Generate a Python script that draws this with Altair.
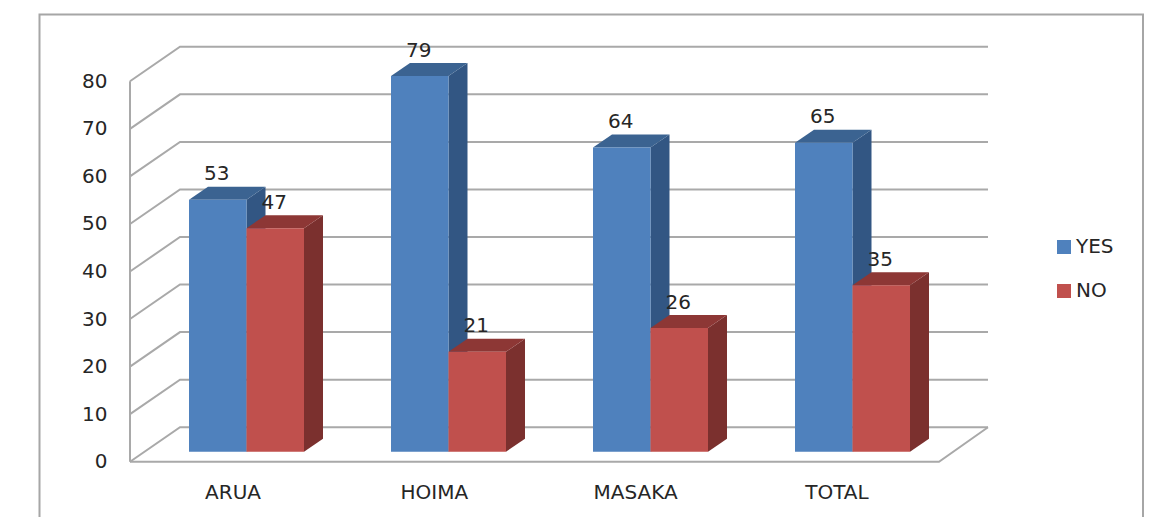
import altair as alt
import pandas as pd

categories = ["ARUA", "HOIMA", "MASAKA", "TOTAL"]
yes_values = [53, 79, 64, 65]
no_values = [47, 21, 26, 35]
tick_values = [0, 10, 20, 30, 40, 50, 60, 70, 80]

FONT = "DejaVu Sans"
TEXT = "#262626"
GRID = "#A9A9A9"
YES_C = ("#4F81BD", "#325683", "#3B6391")
NO_C = ("#C0504D", "#7B302E", "#8D3735")

# x is in page pixels, y is in value units
PX = 4.755            # pixels per value unit
ZERO_PAGE = 461.7     # page y of value 0 on the front plane
y_dom = [(ZERO_PAGE - 517) / PX, (ZERO_PAGE - 8) / PX]
x_dom = [8, 1151]
X = alt.X("x:Q", scale=alt.Scale(domain=x_dom), axis=None)
Y = alt.Y("y:Q", scale=alt.Scale(domain=y_dom),
          axis=alt.Axis(values=tick_values, domain=False, ticks=False, grid=False, title=None,
                        offset=-99, labelPadding=0, labelFont=FONT, labelFontSize=20,
                        labelColor=TEXT, labelBaseline="middle"))

WALL_X, BACK_X, FLOOR_END = 130, 180, 939
BACK_END = 988
DEPTH = 34.5 / PX
BASE = 10 / PX
BAR_DX, BAR_DY = 19, 13 / PX
FIRST, STEP, BAR_W = 189, 202, 57.5
TOP_V = 80

# frame
frame = pd.DataFrame({"x": [39.5, 39.5, 1143, 1143],
                      "y": [y_dom[0], (ZERO_PAGE - 14.5) / PX, (ZERO_PAGE - 14.5) / PX, y_dom[0]],
                      "o": [0, 1, 2, 3]})
frame_l = alt.Chart(frame).mark_line(color="#A6A6A6", strokeWidth=2).encode(X, Y, order="o:Q")

# grid lines on side wall and back wall, then the floor outline and axis line
rows = []
for v in tick_values:
    rows += [dict(g=f"t{v}", o=0, x=WALL_X, y=v),
             dict(g=f"t{v}", o=1, x=BACK_X, y=v + DEPTH),
             dict(g=f"t{v}", o=2, x=BACK_END, y=v + DEPTH)]
rows += [dict(g="floor", o=0, x=WALL_X, y=0), dict(g="floor", o=1, x=FLOOR_END, y=0),
         dict(g="floor", o=2, x=BACK_END, y=DEPTH),
         dict(g="wall", o=0, x=WALL_X, y=0), dict(g="wall", o=1, x=WALL_X, y=TOP_V)]
grid_l = alt.Chart(pd.DataFrame(rows)).mark_line(color=GRID, strokeWidth=2).encode(X, Y, detail="g:N", order="o:Q")


def faces(values, left, series, cols):
    side, top, front = [], [], []
    for i, v in enumerate(values):
        xl = left + i * STEP
        xr = xl + BAR_W
        tv = BASE + v
        side += [dict(g=i, x=xr, y=BASE, y2=tv), dict(g=i, x=xr + BAR_DX, y=BASE + BAR_DY, y2=tv + BAR_DY)]
        top += [dict(g=i, x=xl, x2=xr, y=tv), dict(g=i, x=xl + BAR_DX, x2=xr + BAR_DX, y=tv + BAR_DY)]
        front.append(dict(x=xl, x2=xr, y=BASE, y2=tv, series=series))
    s = alt.Chart(pd.DataFrame(side)).mark_area(color=cols[1], orient="vertical").encode(X, Y, y2="y2:Q", detail="g:N")
    t = alt.Chart(pd.DataFrame(top)).mark_area(color=cols[2], orient="horizontal").encode(X, Y, x2="x2:Q", detail="g:N")
    f = alt.Chart(pd.DataFrame(front)).mark_rect().encode(
        X, Y, x2="x2:Q", y2="y2:Q",
        color=alt.Color("series:N",
                        scale=alt.Scale(domain=["YES", "NO"], range=[YES_C[0], NO_C[0]]),
                        legend=alt.Legend(orient="none", legendX=1046, legendY=229, title=None,
                                          symbolType="square", symbolSize=196, symbolStrokeWidth=0,
                                          labelFont=FONT, labelFontSize=20, labelColor=TEXT,
                                          labelOffset=2, rowPadding=24)))
    return [s, t, f]


blue = faces(yes_values, FIRST, "YES", YES_C)
red = faces(no_values, FIRST + BAR_W, "NO", NO_C)

# value labels
lab = []
for i, (a, b) in enumerate(zip(yes_values, no_values)):
    lab.append(dict(x=FIRST + i * STEP + BAR_W / 2 - 1, y=BASE + a + BAR_DY + 12.5 / PX, t=str(a)))
    lab.append(dict(x=FIRST + BAR_W + i * STEP + BAR_W / 2 - 1, y=BASE + b + BAR_DY + 12.5 / PX, t=str(b)))
val_l = alt.Chart(pd.DataFrame(lab)).mark_text(font=FONT, fontSize=20, color=TEXT, baseline="middle").encode(X, Y, text="t:N")

# category labels
cat_df = pd.DataFrame({"x": [233 + i * 201.3 for i in range(4)],
                       "y": [(ZERO_PAGE - 493) / PX] * 4, "t": categories})
cat_l = alt.Chart(cat_df).mark_text(font=FONT, fontSize=20, color=TEXT, baseline="middle").encode(X, Y, text="t:N")

chart = alt.layer(frame_l, grid_l, *blue, *red, val_l, cat_l).properties(
    width=1143, height=509, padding=0, autosize="none", background="white"
).configure_view(stroke=None)

chart.save("out.html", embed_options={"renderer": "svg", "actions": False})
